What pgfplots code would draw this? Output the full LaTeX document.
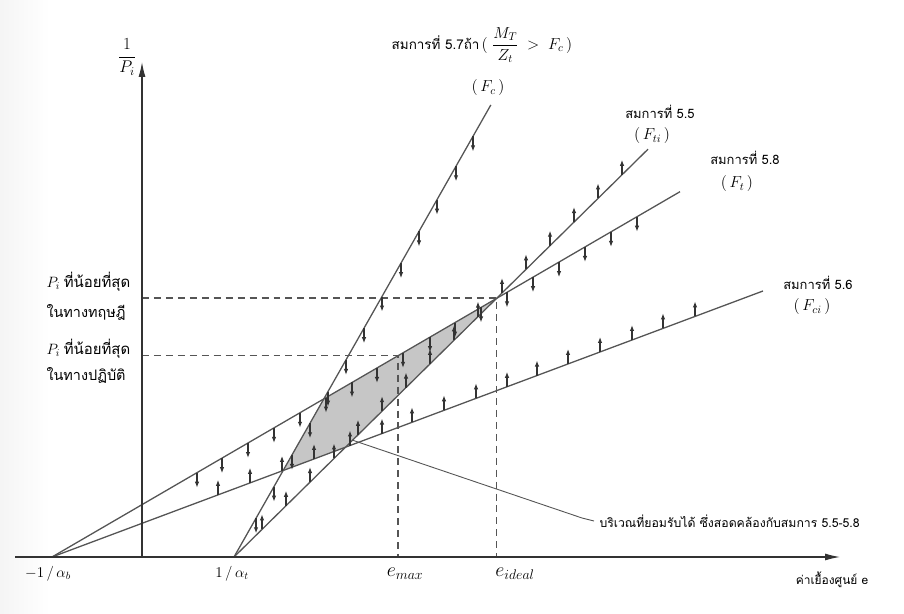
\RequirePackage{fix-cm}
\documentclass[border=0pt]{standalone}
\usepackage{amsmath}
\usepackage{fontspec}
\setmainfont{Liberation Serif}
\newfontfamily\thai[Script=Thai]{Loma}
\usepackage{pgfplots}
\pgfplotsset{compat=1.18}
\usetikzlibrary{arrows.meta}

\definecolor{ln}{HTML}{555555}
\definecolor{arr}{HTML}{333333}
\definecolor{zone}{HTML}{C6C6C6}
\definecolor{txt}{HTML}{222222}

\begin{document}
\begin{tikzpicture}
\begin{axis}[
  width=904bp, height=614bp, scale only axis,
  xmin=-142, xmax=762, ymin=-57, ymax=557,
  hide axis, clip=false,
  every node/.style={text=txt},
]
\path (-142,-57) rectangle (762,557);
% page-edge shadow
\shade[left color=black!4, right color=white] (-142,-57) rectangle (-92,557);

% feasible zone bounded by the four stress limits
\addplot[fill=zone, draw=none] coordinates {
  (181.85,158.1) (354.5,258.9) (203.46,109.8) (141.13,86.47) (181.85,158.1)};

% stress-limit lines
\addplot[ln, line width=1.3pt] coordinates {(-90,0) (538,365.3)};   % F_t
\addplot[ln, line width=1.3pt] coordinates {(-90,0) (621,266.0)};   % F_ci
\addplot[ln, line width=1.3pt] coordinates {(92,0) (506,407.8)};    % F_ti
\addplot[ln, line width=1.3pt] coordinates {(92,0) (348.8,452)};    % F_c

% minimum prestress: theory and practice
\addplot[ln, line width=1.2pt, dash pattern=on 7pt off 5pt] coordinates {(0,258.9) (354.5,258.9) (354.5,0)};
\addplot[ln, line width=1.2pt, dash pattern=on 7pt off 5pt] coordinates {(0,201.3) (256,201.3) (256,0)};

% coordinate axes
\addplot[arr, line width=1.2pt, -{Latex[length=15pt,width=7pt]}] coordinates {(-127,0) (698,0)};
\addplot[arr, line width=1.2pt, -{Latex[length=15pt,width=7pt]}] coordinates {(0,0) (0,495)};

% admissible-side arrows
\pgfplotsset{side arrow/.style={arr, line width=1.1pt, -{Latex[length=6pt,width=4.5pt]}}}
\addplot[side arrow, quiver={u=0,v=-15}] coordinates {
  (55,84.35) (80,98.89) (106,114.01) (132,129.14) (158,144.26) (184,159.39)
  (210,174.51) (235,189.05) (261,204.18) (288,219.88) (313,234.43) (339,249.55)
  (365,264.67) (391,279.80) (417,294.92) (443,310.05) (469,325.17) (495,340.29)};
\addplot[side arrow, quiver={u=0,v=15}] coordinates {
  (76,62.10) (108,74.07) (140,86.04) (172,98.01) (208,111.48) (240,123.45)
  (270,134.68) (302,146.65) (334,158.62) (365,170.22) (395,181.44) (426,193.04)
  (458,205.01) (490,216.98) (521,228.58) (553,240.55)};
\addplot[side arrow, quiver={u=0,v=-15}] coordinates {
  (114,38.72) (132,70.4) (150,102.08) (168,133.76) (186,165.44) (204,197.12)
  (222,228.8) (240,260.48) (259,293.92) (277,325.6) (295,357.28) (314,390.72) (331,420.64)};
\addplot[side arrow, quiver={u=0,v=15}] coordinates {
  (120,27.58) (144,51.22) (168,74.86) (192,98.5) (216,122.14) (240,145.78)
  (264,169.42) (288,193.06) (312,216.7) (336,240.34) (360,263.98) (384,287.62)
  (408,311.26) (432,334.9) (456,358.54) (480,382.18)};

% leader to the zone label
\draw[ln, line width=0.9pt] (210,117) -- (440,39) -- (452,36);

% labels
\node at (-15,500) {\fontsize{17}{19}\selectfont $\dfrac{1}{P_i}$};
\node at (340,512) {\fontsize{13.5}{15}\selectfont\thai สมการที่ 5.7ถ้า\,{\fontsize{16}{18}\selectfont$(\;\dfrac{M_T}{Z_t} \;>\; F_c\,)$}};
\node at (346,469) {\fontsize{16}{18}\selectfont $(\,F_c\,)$};
\node at (518,445) {\fontsize{13}{15}\selectfont\thai สมการที่ 5.5};
\node at (510,421) {\fontsize{16}{18}\selectfont $(\,F_{ti}\,)$};
\node at (603,399) {\fontsize{13}{15}\selectfont\thai สมการที่ 5.8};
\node at (595,373) {\fontsize{16}{18}\selectfont $(\,F_{t}\,)$};
\node at (676,274) {\fontsize{13}{15}\selectfont\thai สมการที่ 5.6};
\node at (670,250) {\fontsize{16}{18}\selectfont $(\,F_{ci}\,)$};

\node[anchor=west] at (-99,275) {\fontsize{15}{17}\selectfont $P_i$ {\thai ที่น้อยที่สุด}};
\node[anchor=west] at (-99,245) {\fontsize{14.5}{17}\selectfont\thai ในทางทฤษฎี};
\node[anchor=west] at (-99,208) {\fontsize{15}{17}\selectfont $P_i$ {\thai ที่น้อยที่สุด}};
\node[anchor=west] at (-99,182) {\fontsize{14.5}{17}\selectfont\thai ในทางปฏิบัติ};

\node at (-94,-17) {\fontsize{15}{17}\selectfont $-1\,/\,\alpha_b$};
\node at (90,-17) {\fontsize{15}{17}\selectfont $1\,/\,\alpha_t$};
\node at (263,-17) {\fontsize{20}{22}\selectfont $e_{max}$};
\node at (373,-17) {\fontsize{20}{22}\selectfont $e_{ideal}$};
\node at (690,-23) {\fontsize{12}{14}\selectfont\thai ค่าเยื้องศูนย์ e};

\node[anchor=west] at (454,36) {\fontsize{12.3}{14}\selectfont\thai บริเวณที่ยอมรับได้ ซึ่งสอดคล้องกับสมการ 5.5-5.8};
\end{axis}
\end{tikzpicture}
\end{document}
